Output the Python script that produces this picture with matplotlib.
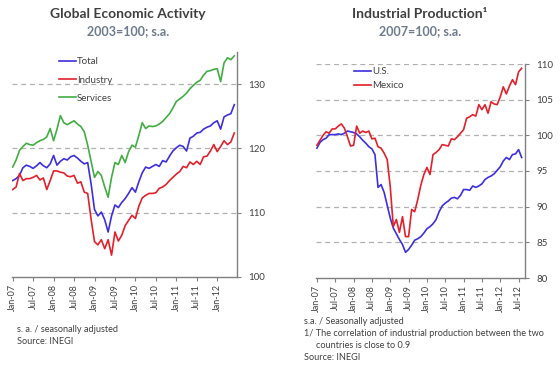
import matplotlib
matplotlib.use("Agg")
import matplotlib.pyplot as plt
import numpy as np

plt.rcParams['font.family'] = ['Lato', 'DejaVu Sans']

# ---------------- data ----------------
left_ticks = ["Jan-07", "Jul-07", "Jan-08", "Jul-08", "Jan-09", "Jul-09",
              "Jan-10", "Jul-10", "Jan-11", "Jul-11", "Jan-12"]
right_ticks = ["Jan-07", "Jul-07", "Jan-08", "Jul-08", "Jan-09", "Jul-09",
               "Jan-10", "Jul-10", "Jan-11", "Jul-11", "Jan-12", "Jul-12"]

total = [115.0, 115.3, 115.8, 117.0, 117.4, 117.2, 116.9, 117.3, 117.8, 117.3,
         117.0, 117.6, 118.9, 117.4, 118.0, 118.4, 118.2, 118.7, 118.9, 118.5,
         118.0, 117.6, 117.8, 114.5, 110.5, 109.5, 110.1, 108.9, 107.0, 109.5,
         111.2, 110.8, 111.6, 112.2, 113.0, 113.9, 113.2, 114.8, 116.2, 117.1,
         116.9, 117.2, 117.5, 117.2, 118.1, 117.9, 118.8, 119.6, 120.1, 120.5,
         120.3, 119.6, 121.6, 121.9, 122.4, 122.5, 123.0, 123.3, 123.5, 124.0,
         124.3, 123.0, 124.9, 125.2, 125.4, 126.8]
industry = [113.6, 114.0, 116.1, 115.0, 115.3, 115.3, 115.5, 115.8, 115.1, 115.4,
            113.6, 115.0, 116.5, 116.5, 116.3, 116.2, 115.7, 115.6, 115.8, 114.6,
            114.8, 113.2, 113.0, 109.0, 105.5, 105.0, 105.8, 104.4, 105.8, 103.4,
            107.0, 105.6, 106.5, 108.0, 108.8, 109.6, 109.1, 111.0, 112.3, 112.7,
            113.0, 113.0, 113.1, 113.8, 114.0, 114.4, 115.0, 115.5, 116.0, 116.4,
            117.2, 117.0, 117.9, 117.5, 118.0, 117.5, 118.7, 118.8, 119.6, 120.6,
            119.5, 120.3, 121.2, 120.6, 121.0, 122.4]
services = [117.1, 118.2, 119.7, 120.3, 120.8, 120.6, 120.5, 120.9, 121.2, 121.4,
            121.8, 123.1, 121.2, 123.0, 125.1, 124.0, 123.7, 124.0, 124.3, 123.8,
            123.4, 122.6, 120.5, 118.0, 115.5, 116.4, 115.8, 114.0, 112.4, 115.5,
            117.8, 117.5, 118.9, 117.8, 119.5, 120.5, 120.2, 122.0, 124.0, 123.1,
            123.5, 123.4, 123.5, 123.8, 124.2, 124.8, 125.4, 126.3, 127.3, 127.7,
            128.1, 128.6, 129.3, 129.8, 130.3, 130.6, 131.4, 132.0, 132.1, 132.3,
            132.4, 130.4, 133.3, 134.1, 133.8, 134.4]

us = [98.2, 99.0, 99.4, 99.6, 100.1, 100.1, 100.1, 100.2, 100.1, 100.3,
      100.6, 100.5, 100.4, 100.2, 99.8, 99.3, 98.9, 98.4, 98.1, 97.3,
      92.7, 93.1, 92.0, 90.2, 88.4, 87.0, 86.2, 85.4, 84.7, 83.6,
      84.0, 84.6, 85.3, 85.5, 85.8, 86.3, 86.9, 87.2, 87.6, 88.2,
      89.3, 90.1, 90.5, 90.8, 91.2, 91.3, 91.1, 91.6, 92.4, 92.4,
      92.3, 92.9, 92.7, 92.9, 93.2, 93.8, 94.1, 94.3, 94.6, 95.1,
      95.6, 96.4, 96.9, 96.6, 97.3, 97.4, 98.0, 96.9]
mexico = [98.6, 99.3, 100.0, 100.5, 100.3, 100.9, 100.9, 101.3, 101.6, 101.0,
          99.8, 98.5, 98.6, 101.3, 100.3, 100.6, 100.4, 100.6, 99.5, 99.6,
          98.4, 98.2, 97.5, 96.6, 92.8, 87.2, 88.2, 86.4, 88.6, 85.8,
          85.8, 89.6, 89.3, 91.0, 93.0, 94.5, 95.5, 94.5, 97.3, 97.6,
          98.0, 98.7, 98.6, 98.5, 99.5, 99.4, 99.8, 100.3, 100.8, 102.4,
          102.6, 102.9, 102.7, 104.3, 103.6, 104.3, 103.1, 104.7, 104.4, 104.3,
          105.4, 106.8, 105.8, 106.9, 107.8, 107.1, 108.9, 109.4]

BLUE = '#3d2fe0'
RED = '#e3202b'
GREEN = '#43ad43'
GRID = '#b0b0b0'
SPINE = '#808080'
TXT = '#404040'
SUB = '#6d7b8d'

fig = plt.figure(figsize=(5.6, 3.74), dpi=100)
fig.patch.set_facecolor('white')


def style_axes(ax, yticks, xtick_labels, skip):
    for s in ['left', 'top']:
        ax.spines[s].set_visible(False)
    for s in ['right', 'bottom']:
        ax.spines[s].set_color(SPINE)
        ax.spines[s].set_linewidth(1.0)
    ax.yaxis.tick_right()
    ax.set_yticks(yticks)
    ax.set_yticklabels([str(v) for v in yticks])
    ax.set_xticks(np.arange(len(xtick_labels)) * 6)
    ax.set_xticklabels(xtick_labels, rotation=90)
    ax.tick_params(axis='y', length=3, width=0.8, color=SPINE, labelsize=7,
                   labelcolor=TXT, pad=5)
    ax.tick_params(axis='x', length=3, width=0.8, color=SPINE, labelsize=6.5,
                   labelcolor=TXT, pad=2)
    for v in yticks:
        if v != skip:
            ax.axhline(v, color=GRID, lw=0.9, ls=(0, (4, 3)), zorder=0)


# ---------------- left chart ----------------
axL = fig.add_axes([12 / 560, (374 - 277) / 374, 225 / 560, 225 / 374])
xl = np.arange(len(total))
axL.plot(xl, total, color=BLUE, lw=1.2, label='Total')
axL.plot(xl, industry, color=RED, lw=1.2, label='Industry')
axL.plot(xl, services, color=GREEN, lw=1.2, label='Services')
axL.set_xlim(-0.2, 65.8)
axL.set_ylim(100, 135)
style_axes(axL, [100, 110, 120, 130], left_ticks, 100)
axL.legend(loc='upper left', bbox_to_anchor=(0.17, 1.015), frameon=False,
           fontsize=7, handlelength=1.7, handletextpad=0.15, labelspacing=0.95,
           labelcolor=TXT)

fig.text(128 / 560, 1 - 14 / 374, 'Global Economic Activity', ha='center',
         va='center', fontsize=10, fontweight='bold', color=TXT)
fig.text(128 / 560, 1 - 31 / 374, '2003=100; s.a.', ha='center', va='center',
         fontsize=9, fontweight='bold', color=SUB)
fig.text(17 / 560, 1 - 329 / 374, 's. a. / seasonally adjusted', ha='left',
         va='center', fontsize=6.6, color=TXT)
fig.text(17 / 560, 1 - 342 / 374, 'Source: INEGI', ha='left', va='center',
         fontsize=6.6, color=TXT)

# ---------------- right chart ----------------
axR = fig.add_axes([316 / 560, (374 - 278) / 374, 209 / 560, 214 / 374])
xr = np.arange(len(us))
axR.plot(xr, us, color=BLUE, lw=1.2, label='U.S.')
axR.plot(xr, mexico, color=RED, lw=1.2, label='Mexico')
axR.set_xlim(-0.3, 68.1)
axR.set_ylim(80, 110)
style_axes(axR, [80, 85, 90, 95, 100, 105, 110], right_ticks, 80)
axR.legend(loc='upper left', bbox_to_anchor=(0.14, 1.025), frameon=False,
           fontsize=7, handlelength=1.7, handletextpad=0.15, labelspacing=0.5,
           labelcolor=TXT)

fig.text(420 / 560, 1 - 14 / 374, 'Industrial Production\u00b9', ha='center',
         va='center', fontsize=10, fontweight='bold', color=TXT)
fig.text(420 / 560, 1 - 31 / 374, '2007=100; s.a.', ha='center', va='center',
         fontsize=9, fontweight='bold', color=SUB)
fig.text(304 / 560, 1 - 321 / 374, 's.a. / Seasonally adjusted', ha='left',
         va='center', fontsize=6.6, color=TXT)
fig.text(304 / 560, 1 - 334 / 374,
         '1/ The correlation of industrial production between the two',
         ha='left', va='center', fontsize=6.6, color=TXT)
fig.text(316 / 560, 1 - 345 / 374, 'countries is close to 0.9', ha='left',
         va='center', fontsize=6.6, color=TXT)
fig.text(304 / 560, 1 - 357 / 374, 'Source: INEGI', ha='left', va='center',
         fontsize=6.6, color=TXT)

fig.savefig('out.png', dpi=100)
